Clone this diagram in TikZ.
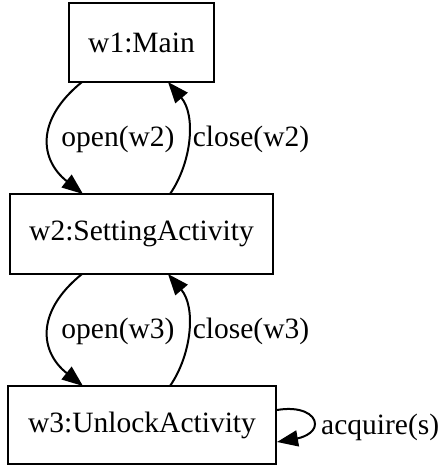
\documentclass[tikz,border=0pt]{standalone}
\usepackage{fontspec}
\setmainfont{Liberation Serif}
\usetikzlibrary{arrows.meta}
\begin{document}
\begin{tikzpicture}[x=1pt,y=-1pt,
  box/.style={draw,line width=2pt,rectangle,inner sep=0pt,outer sep=0pt,
    font=\fontsize{29.5}{34}\selectfont},
  lbl/.style={inner sep=0pt,font=\fontsize{29.5}{34}\selectfont},
  edge/.style={line width=2pt,-{Triangle[length=21pt,width=16pt]}}]
\useasboundingbox (0,0) rectangle (443,465);
\node[box,minimum width=145pt,minimum height=79pt] (w1) at (141.5,42.5) {w1:Main};
\node[box,minimum width=263pt,minimum height=80pt] (w2) at (141.5,234) {w2:SettingActivity};
\node[box,minimum width=268pt,minimum height=78pt] (w3) at (142,425) {w3:UnlockActivity};
% w1 <-> w2
\coordinate (a1) at (82,82);   \coordinate (a2) at (83,194);
\coordinate (b1) at (170,194); \coordinate (b2) at (168,82);
\draw[edge] (a1) .. controls (35,120) and (40,160) .. (a2);
\draw[edge] (b1) .. controls (192,162) and (196,115) .. (b2);
\node[lbl] (l1) at (118,139) {open(w2)};
\node[lbl] (l2) at (251,139) {close(w2)};
% w2 <-> w3
\coordinate (c1) at (82,274);  \coordinate (c2) at (83,386);
\coordinate (d1) at (170,386); \coordinate (d2) at (168,274);
\draw[edge] (c1) .. controls (35,312) and (40,352) .. (c2);
\draw[edge] (d1) .. controls (192,354) and (196,307) .. (d2);
\node[lbl] (l3) at (118,331) {open(w3)};
\node[lbl] (l4) at (251,331) {close(w3)};
% self loop
\coordinate (s1) at (277,410); \coordinate (s2) at (277,442);
\draw[edge] (s1) .. controls (300,406) and (315,414) .. (315,424)
  .. controls (315,434) and (300,438) .. (s2);
\node[lbl,anchor=west] (l5) at (321,427) {acquire(s)};
\end{tikzpicture}
\end{document}
